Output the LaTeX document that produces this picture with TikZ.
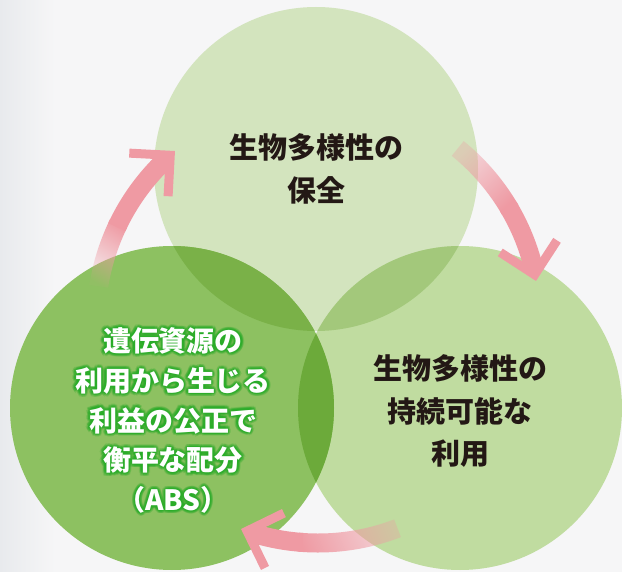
\documentclass[tikz,border=0pt]{standalone}
\usepackage{fontspec}
\newfontfamily\jp{Noto Sans CJK JP}
\usetikzlibrary{calc,fadings}
\definecolor{bgc}{RGB}{246,246,247}
\definecolor{bgedge}{RGB}{232,234,237}
\definecolor{cT}{RGB}{211,228,190}
\definecolor{cBR}{RGB}{192,220,160}
\definecolor{cBL}{RGB}{141,193,97}
\definecolor{cTBL}{RGB}{122,177,72}
\definecolor{cTBR}{RGB}{163,200,123}
\definecolor{cBLBR}{RGB}{108,170,58}
\definecolor{cAll}{RGB}{100,165,52}
\definecolor{pinkc}{RGB}{239,154,163}
\definecolor{txt}{RGB}{35,24,21}
\definecolor{glowc}{RGB}{40,172,40}
\tikzfading[name=tailfadeA, left color=transparent!95, right color=transparent!0]
\tikzfading[name=tailfadeB, left color=transparent!70, right color=transparent!0]
\begin{document}
\begin{tikzpicture}[x=1pt,y=1pt,
  lbl/.style={font=\jp\bfseries\fontsize{29}{42.5}\selectfont, text=txt, align=center, inner sep=0pt},
  bltxt/.style={font=\jp\bfseries\fontsize{28}{39.75}\selectfont, align=center, inner sep=0pt},
  body/.style={draw=pinkc, line width=19pt},
  chev/.style={draw=pinkc, line width=9pt, miter limit=10},
]
\fill[bgc] (0,0) rectangle (622,-572);
\useasboundingbox (0,0) rectangle (622,-572);
\shade[left color=bgedge, right color=bgc] (0,0) rectangle (55,-572);

% circles
\coordinate (pT) at (316,-169);
\coordinate (pBL) at (172,-408);
\coordinate (pBR) at (460,-408);
\fill[cT] (pT) circle[radius=162pt];
\fill[cBR] (pBR) circle[radius=162pt];
\fill[cBL] (pBL) circle[radius=162pt];
\begin{scope}
  \clip (pT) circle[radius=162pt];
  \fill[cTBL] (pBL) circle[radius=162pt];
  \fill[cTBR] (pBR) circle[radius=162pt];
\end{scope}
\begin{scope}
  \clip (pBL) circle[radius=162pt];
  \fill[cBLBR] (pBR) circle[radius=162pt];
  \clip (pT) circle[radius=162pt];
  \fill[cAll] (pBR) circle[radius=162pt];
\end{scope}

% arrows
\coordinate (C) at (318,-321);
% upper-left
\fill[pinkc, path fading=tailfadeA, fading angle=72]
  ([shift={(171:231.5pt)}]C) arc[start angle=171, end angle=154, radius=231.5pt]
  -- ([shift={(154:212.5pt)}]C) arc[start angle=154, end angle=171, radius=212.5pt] -- cycle;
\draw[body] ([shift={(155:222pt)}]C) arc[start angle=155, end angle=133.2, radius=222pt];
\coordinate (tipUL) at (175,-151);
\coordinate (vUL) at ($(tipUL)+(222:6.4pt)$);
\draw[chev] ($(vUL)+(177:41pt)$) -- (vUL) -- ($(vUL)+(267:41pt)$);
% upper-right
\fill[pinkc, path fading=tailfadeB, fading angle=-49.5]
  ([shift={(51:231.5pt)}]C) arc[start angle=51, end angle=30, radius=231.5pt]
  -- ([shift={(30:212.5pt)}]C) arc[start angle=30, end angle=51, radius=212.5pt] -- cycle;
\draw[body] ([shift={(31:222pt)}]C) arc[start angle=31, end angle=13.5, radius=222pt];
\coordinate (tipUR) at (536,-281);
\coordinate (vUR) at ($(tipUR)+(102:6.4pt)$);
\draw[chev] ($(vUR)+(57:41pt)$) -- (vUR) -- ($(vUR)+(147:41pt)$);
% bottom
\fill[pinkc, path fading=tailfadeB, fading angle=188]
  ([shift={(291:231.5pt)}]C) arc[start angle=291, end angle=265, radius=231.5pt]
  -- ([shift={(265:212.5pt)}]C) arc[start angle=265, end angle=291, radius=212.5pt] -- cycle;
\draw[body] ([shift={(266:222pt)}]C) arc[start angle=266, end angle=252.8, radius=222pt];
\coordinate (tipB) at (241,-529);
\coordinate (vB) at ($(tipB)+(-19:6.4pt)$);
\draw[chev] ($(vB)+(26:41pt)$) -- (vB) -- ($(vB)+(-64:41pt)$);

% texts
\node[lbl] (tT) at (316,-169) {生物多様性の\\保全};
\node[lbl] (tBR) at (460,-411.5) {生物多様性の\\持続可能な\\利用};
\foreach \a in {0,22.5,...,337.5}{
  \node[bltxt, text=glowc, opacity=0.2] (go\a) at ($(173,-420.5)+(\a:3.2pt)$) {遺伝資源の\\利用から生じる\\利益の公正で\\衡平な配分\\（ABS）};
}
\foreach \a in {0,45,...,315}{
  \node[bltxt, text=glowc, opacity=0.32] (gi\a) at ($(173,-420.5)+(\a:1.6pt)$) {遺伝資源の\\利用から生じる\\利益の公正で\\衡平な配分\\（ABS）};
}
\node[bltxt, text=white] (tBL) at (173,-420.5) {遺伝資源の\\利用から生じる\\利益の公正で\\衡平な配分\\（ABS）};
\end{tikzpicture}
\end{document}
